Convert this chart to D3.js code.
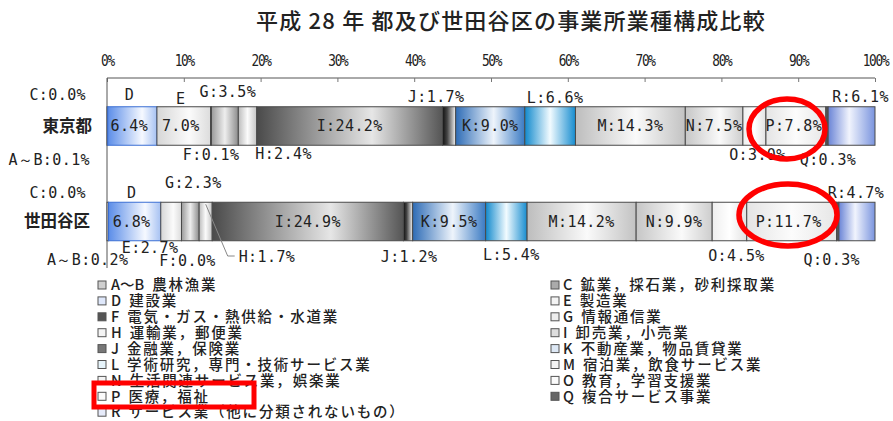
<!DOCTYPE html>
<html><head><meta charset="utf-8">
<script src="https://cdn.jsdelivr.net/npm/d3@7"></script>
<style>
body{margin:0;background:#fff;}
svg{display:block;}
</style></head>
<body>
<script>
// ---------- data ----------
const title = "平成 28 年 都及び世田谷区の事業所業種構成比較";
const rows = ["東京都", "世田谷区"];
const categories = ["A～B","C","D","E","F","G","H","I","J","K","L","M","N","O","P","Q","R"];
const tokyoValues    = [0.1,0.0,6.4,7.0,0.1,3.5,2.4,24.2,1.7,9.0,6.6,14.3,7.5,3.0,7.8,0.3,6.1];
const setagayaValues = [0.2,0.0,6.8,2.7,0.0,2.3,1.7,24.9,1.2,9.5,5.4,14.2,9.9,4.5,11.7,0.3,4.7];
const tickValues = [0,10,20,30,40,50,60,70,80,90,100];
const legendLeftKeys  = ["A～B","D","F","H","J","L","N","P","R"];
const legendLeftNames = ["農林漁業","建設業","電気・ガス・熱供給・水道業","運輸業，郵便業","金融業，保険業","学術研究，専門・技術サービス業","生活関連サービス業，娯楽業","医療，福祉","サービス業（他に分類されないもの）"];
const legendRightKeys  = ["C","E","G","I","K","M","O","Q"];
const legendRightNames = ["鉱業，採石業，砂利採取業","製造業","情報通信業","卸売業，小売業","不動産業，物品賃貸業","宿泊業，飲食サービス業","教育，学習支援業","複合サービス事業"];

// ---------- styles ----------
const grad = {
 "A～B":[["0","#b8b8b8"],["0.5","#eeeeee"],["1","#b8b8b8"]],
 "C":[["0","#999"],["0.5","#ddd"],["1","#999"]],
 "D":[["0","#5b8de8"],["0.7","#f6f9ff"],["1","#a6c1f2"]],
 "E":[["0","#d6d6d6"],["0.6","#fbfbfb"],["1","#dcdcdc"]],
 "F":[["0","#333"],["1","#333"]],
 "G":[["0","#9a9a9a"],["0.5","#eeeeee"],["1","#8c8c8c"]],
 "H":[["0","#bcbcbc"],["0.5","#fbfbfb"],["1","#c4c4c4"]],
 "I":[["0","#4a4a4a"],["0.62","#e6e6e6"],["1","#555"]],
 "J":[["0","#111"],["0.35","#444"],["1","#f4f4f4"]],
 "K":[["0","#2e6cb6"],["0.55","#eef4fb"],["1","#3a7ac3"]],
 "L":[["0","#1189cc"],["0.5","#f2fbff"],["1","#168ccf"]],
 "M":[["0","#bdbdbd"],["0.55","#fafafa"],["1","#c2c2c2"]],
 "N":[["0","#c6c6c6"],["0.6","#fafafa"],["1","#cdcdcd"]],
 "O":[["0","#eeeeee"],["0.5","#ffffff"],["1","#e2e2e2"]],
 "P":[["0","#e4e4e4"],["0.5","#fcfcfc"],["1","#e6e6e6"]],
 "Q":[["0","#555"],["1","#555"]],
 "R":[["0","#6a84d6"],["0.45","#f1f4fd"],["1","#7a94de"]]
};
const legendFill = {"A～B":"#cfcfcf","C":"#aaa","D":"#dfe8fb","E":"#f4f4f4","F":"#555","G":"#eee","H":"#f4f4f4","I":"#ddd","J":"#777","K":"#dde8f5","L":"#e6f4fb","M":"#f4f4f4","N":"#f4f4f4","O":"#fbfbfb","P":"#fbfbfb","Q":"#666","R":"#e6ebfa"};

const labelCfg = [
 { // 東京都
  "A～B":{type:"left",dx:-17,y:160}, "C":{type:"left",dx:-21,y:95},
  "D":{type:"split",y:95,dx:-3}, "E":{type:"split",y:99,dx:-3},
  "F":{type:"out",y:155,dx:0}, "G":{type:"out",y:92,dx:3}, "H":{type:"out",y:154,dx:36},
  "I":{type:"in"}, "J":{type:"out",y:97,dx:-13}, "K":{type:"in"}, "L":{type:"out",y:98,dx:5},
  "M":{type:"in"}, "N":{type:"in"}, "O":{type:"out",y:155,dx:3}, "P":{type:"in",dx:-2},
  "Q":{type:"out",y:160,dx:1}, "R":{type:"out",y:97,dx:9}
 },
 { // 世田谷区
  "A～B":{type:"leftStart",dx:-60,y:260}, "C":{type:"left",dx:-21,y:193},
  "D":{type:"split",y:193,dx:-3},
  "E":{type:"out",y:248,dx:-21}, "F":{type:"out",y:261,dx:6}, "G":{type:"out",y:183,dx:3},
  "H":{type:"leader",y:257,dx:31}, "I":{type:"in"}, "J":{type:"out",y:257,dx:1},
  "K":{type:"in"}, "L":{type:"out",y:255,dx:5}, "M":{type:"in"}, "N":{type:"in"},
  "O":{type:"out",y:256,dx:7}, "P":{type:"in",dx:-3}, "Q":{type:"out",y:260,dx:-6}, "R":{type:"out",y:193,dx:-1}
 }
];

const W = 893, H = 421;
const svg = d3.select("body").append("svg").attr("width",W).attr("height",H);
const defs = svg.append("defs");
Object.entries(grad).forEach(([k,stops],i)=>{
  const g = defs.append("linearGradient").attr("id","g"+i).attr("x1","0").attr("x2","1").attr("y1","0").attr("y2","0");
  stops.forEach(s=>g.append("stop").attr("offset",s[0]).attr("stop-color",s[1]));
  grad[k].id = "g"+i;
});

const x = d3.scaleLinear().domain([0,100]).range([107,875]);
const yc = d3.scalePoint().domain(rows).range([126,221.5]);
const bh = 38.5;

const mono = "'DejaVu Sans Mono', monospace";
const jp = "'Noto Sans CJK JP', sans-serif";

// title
svg.append("text").attr("x",511).attr("y",29).attr("text-anchor","middle")
  .attr("font-family",jp).attr("font-size",22).attr("font-weight",500).attr("fill","#222")
  .attr("letter-spacing",1.2).text(title);

// axis
const axis = d3.axisTop(x).tickValues(tickValues).tickSize(-4).tickFormat(d=>d+"%").tickPadding(12);
const ag = svg.append("g").attr("transform","translate(0,78)").call(axis);
ag.select(".domain").attr("stroke","#555").attr("d","M107,0H875");
ag.selectAll(".tick line").attr("stroke","#777");
ag.selectAll(".tick text").attr("font-family",mono).attr("font-size",15).attr("fill","#222")
  .attr("letter-spacing",-1.5).attr("transform","scale(0.85,1)");
svg.append("line").attr("x1",x(0)).attr("x2",x(0)).attr("y1",78).attr("y2",268).attr("stroke","#555");

const data = [tokyoValues, setagayaValues];
data.forEach((vals,ri)=>{
  const row = rows[ri];
  let cum = 0;
  const segs = vals.map((v,i)=>{const s={key:categories[i],v,x0:cum,x1:cum+v}; cum+=v; return s;});
  const by = yc(row) - bh/2;
  const g = svg.append("g");
  g.selectAll("rect").data(segs.filter(s=>s.v>0)).join("rect")
    .attr("x",d=>x(d.x0)).attr("y",by).attr("width",d=>x(d.x1)-x(d.x0)).attr("height",bh)
    .attr("fill",d=>`url(#${grad[d.key].id})`)
    .attr("stroke",d=>d.key==="D"?"#3b6fd4":"#4a4a4a").attr("stroke-width",1);
  svg.append("text").attr("x",ri===0?92:90).attr("y",yc(row)).attr("dy","0.36em").attr("text-anchor","end")
    .attr("font-family",jp).attr("font-size",16.5).attr("font-weight",700).attr("fill","#222").text(row);
  const cfg = labelCfg[ri];
  segs.forEach(s=>{
    const c = cfg[s.key]; if(!c) return;
    const cx = x((s.x0+s.x1)/2) + (c.dx||0);
    const full = s.key+":"+s.v.toFixed(1)+"%";
    const t = (xx,yy,txt,anchor)=>svg.append("text").attr("x",xx).attr("y",yy).attr("dy","0.36em")
      .attr("text-anchor",anchor||"middle").attr("font-family",mono).attr("font-size",15)
      .attr("fill","#222").attr("letter-spacing",0.4).text(txt);
    if(c.type==="in") t(cx, yc(row), full);
    else if(c.type==="split"){ t(cx, c.y, s.key); t(cx, yc(row), s.v.toFixed(1)+"%"); }
    else if(c.type==="out") t(cx, c.y, full);
    else if(c.type==="left") t(x(0)+c.dx, c.y, full, "end");
    else if(c.type==="leftStart") t(x(0)+c.dx, c.y, full, "start");
    else if(c.type==="leader"){
      const sx = x((s.x0+s.x1)/2);
      svg.append("polyline").attr("points",`${sx},${by+2} ${sx+22},${c.y-1} ${sx+29},${c.y-1}`)
        .attr("fill","none").attr("stroke","#888").attr("stroke-width",1);
      t(cx+2, c.y, full, "start");
    }
  });
});

// legend
const lg = svg.append("g");
const rowH = 15.9;
function legendCol(keys, names, mx, tx, y0){
  keys.forEach((k,i)=>{
    const yy = y0 + i*rowH;
    lg.append("rect").attr("x",mx).attr("y",yy-4).attr("width",8).attr("height",8)
      .attr("fill",legendFill[k]).attr("stroke","#555").attr("stroke-width",1);
    const tx0 = lg.append("text").attr("x",tx).attr("y",yy).attr("dy","0.36em").attr("font-family",jp)
      .attr("font-size",14.5).attr("fill","#222").attr("font-weight",500);
    tx0.append("tspan").text(k);
    tx0.append("tspan").attr("dx",8).attr("letter-spacing",1.8).text(names[i]);
  });
}
legendCol(legendLeftKeys, legendLeftNames, 98, 111, 285);
legendCol(legendRightKeys, legendRightNames, 551, 563, 285);

// red annotations
svg.append("ellipse").attr("cx",787).attr("cy",129).attr("rx",38).attr("ry",30)
  .attr("fill","none").attr("stroke","#f00").attr("stroke-width",5.5);
svg.append("ellipse").attr("cx",788).attr("cy",215).attr("rx",49).attr("ry",31)
  .attr("fill","none").attr("stroke","#f00").attr("stroke-width",5.5);
svg.append("rect").attr("x",94).attr("y",383).attr("width",160).attr("height",24)
  .attr("fill","none").attr("stroke","#f00").attr("stroke-width",5);
</script>
</body></html>
